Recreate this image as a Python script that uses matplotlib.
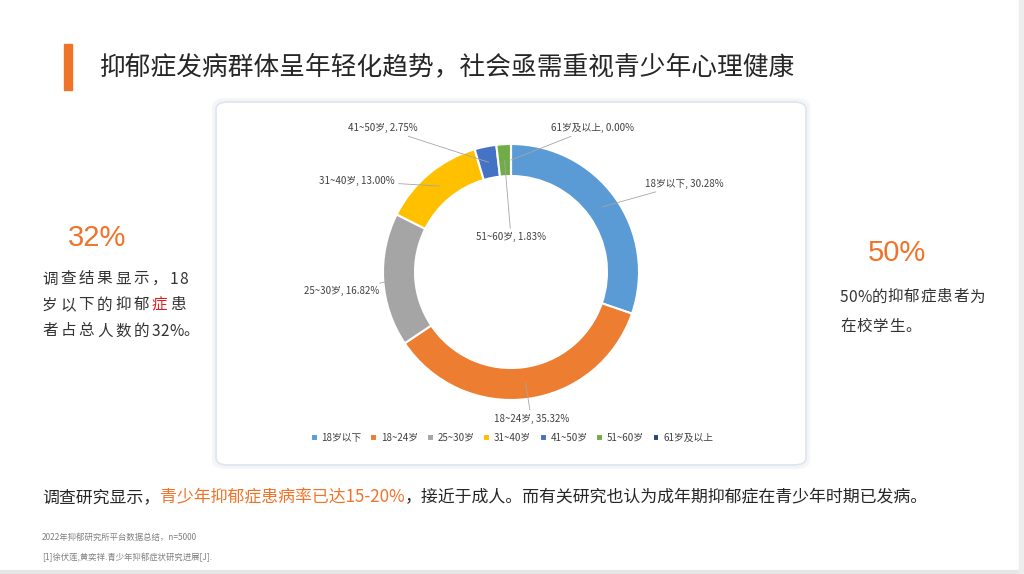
import matplotlib
matplotlib.use('Agg')
import numpy as np
from matplotlib import pyplot as plt
from matplotlib.patches import FancyBboxPatch, Rectangle

plt.rcParams['font.family'] = ['Noto Sans CJK SC', 'DejaVu Sans']

# data
groups = ['18岁以下', '18~24岁', '25~30岁', '31~40岁', '41~50岁', '51~60岁', '61岁及以上']
shares = [30.28, 35.32, 16.82, 13.00, 2.75, 1.83, 0.00]
colors = ['#5B9BD5', '#ED7D31', '#A5A5A5', '#FFC000', '#4472C4', '#70AD47', '#264478']

title = '抑郁症发病群体呈年轻化趋势，社会亟需重视青少年心理健康'
orange = '#F0732A'
W, H = 1024, 574


def fx(x):
    return x / W


def fy(y):
    return 1 - y / H


fig = plt.figure(figsize=(10.24, 5.74), dpi=100)
fig.patch.set_facecolor('white')

# bottom / right grey edges
fig.add_artist(Rectangle((0, 0), 1, fy(570), transform=fig.transFigure, color='#E6E6E6', zorder=0))
fig.add_artist(Rectangle((fx(1019), 0), 1, 1, transform=fig.transFigure, color='#EDEDED', zorder=0))

# title + orange bar
fig.add_artist(Rectangle((fx(64), fy(90)), fx(8), (90 - 44) / H, transform=fig.transFigure,
                         color=orange))
fig.text(fx(100), fy(67), title, fontsize=18.5, color='#262626', va='center', ha='left',
         fontweight='medium')

# chart box with soft shadow
for i, a in enumerate([0.05, 0.05, 0.06]):
    d = 3 - i
    fig.add_artist(FancyBboxPatch((fx(216 - d), fy(465 + d)), (806 - 216 + 2 * d) / W,
                                  (465 - 102 + 2 * d) / H,
                                  boxstyle='round,pad=0,rounding_size=0.012',
                                  transform=fig.transFigure, facecolor='none',
                                  edgecolor='#9DB0CC', alpha=a, lw=2, zorder=-2))
fig.add_artist(FancyBboxPatch((fx(216), fy(465)), (806 - 216) / W, (465 - 102) / H,
                              boxstyle='round,pad=0,rounding_size=0.012',
                              transform=fig.transFigure, facecolor='white',
                              edgecolor='#DDE4EE', lw=1.2, zorder=-1))

# donut
cx, cy, r_px, half = 511, 272, 128, 150
ax = fig.add_axes([fx(cx - half), fy(cy + half), 2 * half / W, 2 * half / H])
ax.set_zorder(5)
ax.patch.set_alpha(0)
wedges, _ = ax.pie(shares, colors=colors, startangle=90, counterclock=False,
                   wedgeprops=dict(width=0.25, edgecolor='white', linewidth=1.5))
lim = half / r_px
ax.set_xlim(-lim, lim)
ax.set_ylim(-lim, lim)
ax.set_aspect('equal')
ax.axis('off')

label_pos = [(1.05, 0.69, 'left'), (0.16, -1.15, 'center'), (-1.03, -0.15, 'right'),
             (-0.91, 0.71, 'right'), (-0.73, 1.125, 'right'), (0.0, 0.27, 'center'),
             (0.31, 1.125, 'left')]
for w, g, v, (lx, ly, ha) in zip(wedges, groups, shares, label_pos):
    mid = np.deg2rad((w.theta1 + w.theta2) / 2)
    px, py = 0.875 * np.cos(mid), 0.875 * np.sin(mid)
    ax.annotate(f'{g}, {v:.2f}%', xy=(px, py), xytext=(lx, ly), ha=ha, va='center',
                fontsize=7, color='#404040', annotation_clip=False,
                arrowprops=dict(arrowstyle='-', color='#A6A6A6', lw=0.6,
                                shrinkA=1, shrinkB=0))

leg = fig.legend(wedges, groups, loc='center', bbox_to_anchor=(fx(512), fy(438)), ncol=7,
                 frameon=False, fontsize=7, handlelength=0.7, handleheight=0.7,
                 handletextpad=0.4, columnspacing=0.9, labelcolor='#404040')


# side texts with wide letter spacing
def spaced(x, y, segs, pitch, size=11.2):
    for s, col in segs:
        for ch in s:
            fig.text(fx(x), fy(y), ch, fontsize=size, color=col, va='center', ha='left')
            if ch.isdigit():
                x += size * 0.78
            elif ch == '%':
                x += size * 1.25
            else:
                x += pitch


dark = '#333333'
fig.text(fx(68), fy(238), '32%', fontsize=21, color=orange, va='center', ha='left',
         family='Liberation Sans')
spaced(42, 279, [('调查结果显示，18', dark)], 18.3)
spaced(42, 305, [('岁以下的抑郁', dark), ('症', '#E02020'), ('患', dark)], 18.3)
spaced(42, 331, [('者占总人数的32%。', dark)], 18.3)

fig.text(fx(868), fy(253), '50%', fontsize=21, color=orange, va='center', ha='left',
         family='Liberation Sans')
spaced(840, 297, [('50%的抑郁症患者为', dark)], 16.3)
spaced(840, 326, [('在校学生。', dark)], 16.3)

# bottom sentence with orange highlight
fs = 12.2
t1 = fig.text(fx(42), fy(497), '调查研究显示，', fontsize=fs, color='#262626', va='center')
t2 = plt.annotate('青少年抑郁症患病率已达15-20%', xy=(1, 0.5), xycoords=t1, va='center',
                  ha='left', fontsize=fs, color=orange, annotation_clip=False)
plt.annotate('，接近于成人。而有关研究也认为成年期抑郁症在青少年时期已发病。', xy=(1, 0.5),
             xycoords=t2, va='center', ha='left', fontsize=fs, color='#262626',
             annotation_clip=False)

fig.text(fx(42), fy(537), '2022年抑郁研究所平台数据总结，n=5000', fontsize=6, color='#808080',
         va='center')
fig.text(fx(42), fy(557), '[1]徐伏莲,黄奕祥.青少年抑郁症状研究进展[J].', fontsize=6,
         color='#808080', va='center')

fig.savefig('out.png', dpi=100, facecolor='white')
